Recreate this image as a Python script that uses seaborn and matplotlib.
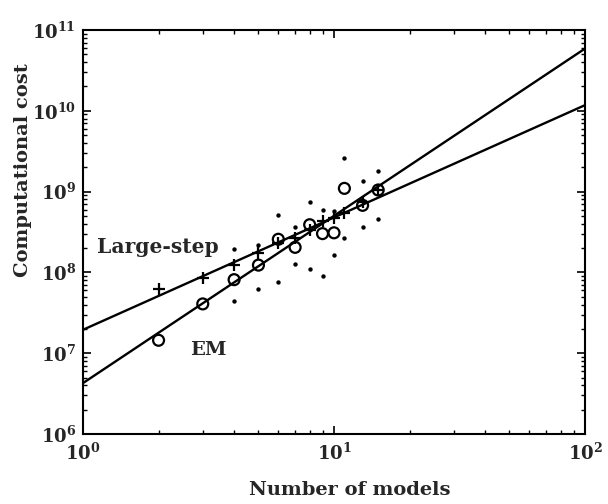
import numpy as np
import pandas as pd
import matplotlib
matplotlib.use("Agg")
import matplotlib.pyplot as plt
import seaborn as sns
from matplotlib.ticker import LogLocator, NullFormatter

# Number of models in the mixture
n_models = [2, 3, 4, 5, 6, 7, 8, 9, 10, 11, 13, 15]

# Mean computational cost (log10) for each method
em_log10 = [7.16, 7.61, 7.91, 8.09, 8.41, 8.31, 8.59, 8.48, 8.49, 9.04, 8.83, 9.02]
large_step_log10 = [7.79, 7.93, 8.09, 8.24, 8.37, 8.43, 8.52, 8.63, 8.67, 8.73, 8.87, 9.02]

# Spread of the cost over runs (upper / lower points)
spread_models = [4, 5, 6, 7, 8, 9, 10, 11, 13, 15]
spread_upper_log10 = [8.29, 8.34, 8.71, 8.56, 8.87, 8.77, 8.76, 9.42, 9.13, 9.26]
spread_lower_log10 = [7.65, 7.80, 7.88, 8.10, 8.04, 7.95, 8.22, 8.42, 8.56, 8.66]

# Power-law fits, evaluated at the ends of the axis
fit_models = [1, 100]
em_fit_log10 = [6.63, 10.77]
large_step_fit_log10 = [7.29, 10.07]

sns.set_style("ticks")
plt.rcParams["font.family"] = ["DejaVu Serif"]
plt.rcParams["font.weight"] = "bold"
plt.rcParams["mathtext.fontset"] = "dejavuserif"
plt.rcParams["mathtext.default"] = "bf"

fig = plt.figure(figsize=(6.08, 5.04), dpi=100)
ax = fig.add_axes([83 / 608, 1 - 434 / 504, 502 / 608, 404 / 504])
ax.set_xscale("log")
ax.set_yscale("log")

em = pd.DataFrame({"models": n_models, "cost": np.power(10.0, em_log10)})
ls = pd.DataFrame({"models": n_models, "cost": np.power(10.0, large_step_log10)})
spread = pd.DataFrame({
    "models": spread_models * 2,
    "cost": np.power(10.0, spread_upper_log10 + spread_lower_log10),
})
fits = pd.DataFrame({
    "models": fit_models,
    "em": np.power(10.0, em_fit_log10),
    "ls": np.power(10.0, large_step_fit_log10),
})

sns.lineplot(data=fits, x="models", y="em", color="black", linewidth=1.7, ax=ax)
sns.lineplot(data=fits, x="models", y="ls", color="black", linewidth=1.7, ax=ax)
sns.scatterplot(data=spread, x="models", y="cost", color="black", s=10,
                linewidth=0, ax=ax, zorder=3)
sns.scatterplot(data=ls, x="models", y="cost", marker="+", color="black",
                s=70, linewidth=1.6, ax=ax, zorder=4)
sns.scatterplot(data=em, x="models", y="cost", marker="o", facecolor="none",
                edgecolor="black", s=62, linewidth=1.6, ax=ax, zorder=5)

ax.set_xlim(1, 100)
ax.set_ylim(1e6, 1e11)

for axis in (ax.xaxis, ax.yaxis):
    axis.set_major_locator(LogLocator(base=10, numticks=20))
    axis.set_minor_locator(LogLocator(base=10, subs=np.arange(2, 10), numticks=20))
    axis.set_minor_formatter(NullFormatter())

ax.tick_params(which="both", direction="in", top=True, right=True,
               color="black", labelsize=13, pad=6)
ax.tick_params(axis="y", which="major", pad=5)
ax.tick_params(which="major", length=6, width=1.2)
ax.tick_params(which="minor", length=3, width=1.0)
for spine in ax.spines.values():
    spine.set_linewidth(1.5)
    spine.set_color("black")

ax.set_xlabel("")
ax.set_ylabel("")
fig.text(350 / 608, 1 - 490 / 504, "Number of models",
         ha="center", va="center", fontsize=14, fontweight="bold")
fig.text(23 / 608, 1 - 170 / 504, "Computational cost", rotation=90,
         ha="center", va="center", fontsize=14, fontweight="bold")

ax.text(1.14, 2.05e8, "Large-step", ha="left", va="center",
        fontsize=14.6, fontweight="bold")
ax.text(3.15, 1.1e7, "EM", ha="center", va="center",
        fontsize=14, fontweight="bold")

fig.savefig("out.png", dpi=100)
